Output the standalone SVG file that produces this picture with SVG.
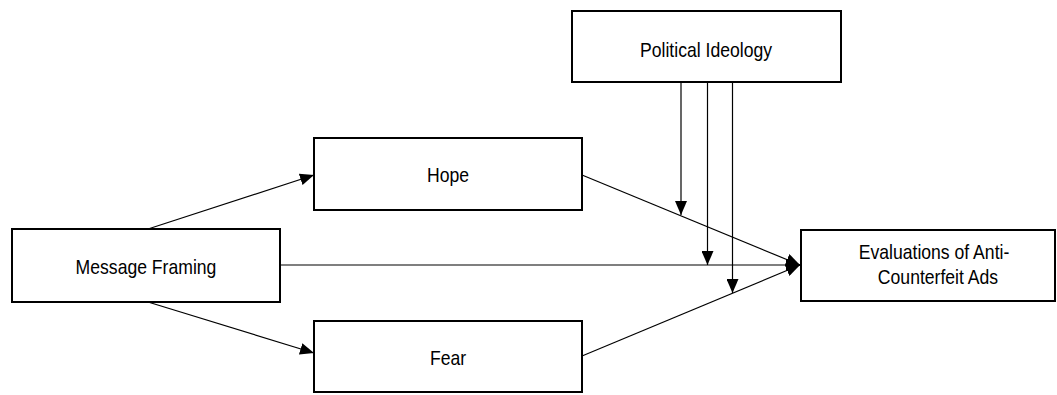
<svg xmlns="http://www.w3.org/2000/svg" width="1057" height="395" viewBox="0 0 1057 395">
<style>
.box{fill:#fff;stroke:#000;stroke-width:2}
.lbl{font-family:"Liberation Sans",Arial,sans-serif;font-size:20px;fill:#000;text-anchor:middle}
.con{stroke:#000;stroke-width:1.2;fill:none;marker-end:url(#ah)}
</style>
<defs>
<marker id="ah" markerUnits="userSpaceOnUse" markerWidth="14" markerHeight="12" refX="14" refY="6" orient="auto">
<path d="M0,0 L14,6 L0,12 z" fill="#000"/>
</marker>
</defs>
<rect width="1057" height="395" fill="#fff"/>
<g id="connectors">
<line class="con" x1="148" y1="229" x2="314" y2="175"/>
<line class="con" x1="148" y1="302" x2="314" y2="353"/>
<line class="con" x1="280" y1="265" x2="800" y2="265"/>
<line class="con" x1="582" y1="175" x2="800" y2="265"/>
<line class="con" x1="582" y1="356" x2="800" y2="265"/>
<line class="con" x1="681" y1="82" x2="681" y2="215"/>
<line class="con" x1="707.5" y1="82" x2="707.5" y2="265"/>
<line class="con" x1="732.5" y1="82" x2="732.5" y2="293"/>
</g>
<g id="political-ideology">
<rect class="box" x="572" y="11" width="269" height="71"/>
<text class="lbl" transform="translate(706,57) scale(0.88,1)">Political Ideology</text>
</g>
<g id="hope">
<rect class="box" x="314" y="138" width="268" height="72"/>
<text class="lbl" transform="translate(448,182) scale(0.88,1)">Hope</text>
</g>
<g id="message-framing">
<rect class="box" x="12" y="229" width="268" height="73"/>
<text class="lbl" transform="translate(146,274) scale(0.88,1)">Message Framing</text>
</g>
<g id="fear">
<rect class="box" x="314" y="321" width="268" height="71"/>
<text class="lbl" transform="translate(448,365) scale(0.88,1)">Fear</text>
</g>
<g id="evaluations">
<rect class="box" x="801" y="230" width="254" height="71"/>
<text class="lbl" transform="translate(934,259) scale(0.88,1)">Evaluations of Anti-</text>
<text class="lbl" transform="translate(938,284) scale(0.88,1)">Counterfeit Ads</text>
</g>
</svg>
